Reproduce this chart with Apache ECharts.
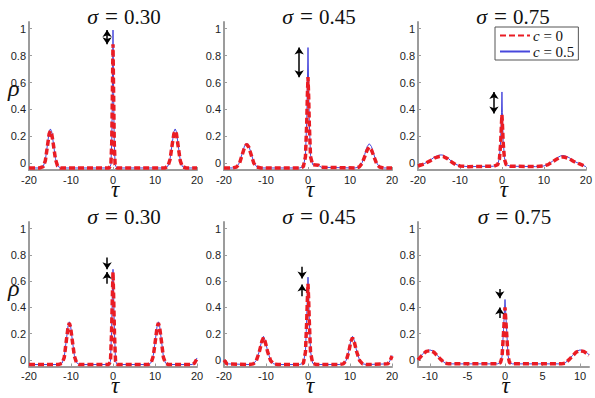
<!DOCTYPE html>
<html>
<head>
<meta charset="utf-8">
<script src="https://cdn.jsdelivr.net/npm/echarts@6/dist/echarts.min.js"></script>
<style>
  html, body { margin: 0; padding: 0; background: #fff; }
  #main { width: 595px; height: 398px; }
</style>
</head>
<body>
<div id="main"></div>
<script>
// panel titles (sigma values), top row then bottom row
var sigmaLabels = ['0.30', '0.45', '0.75', '0.30', '0.45', '0.75'];
var yTicks = [0, 0.2, 0.4, 0.6, 0.8, 1];
var xTicks = [-20, -10, 0, 10, 20];
var xTicksShort = [-10, -5, 0, 5, 10];

// top left, sigma = 0.30
var tauTL = [-20, -17.5, -16.6, -16.1, -15.6, -15.2, -14.9, -14.6, -14.2, -13.7, -13.2, -12.5, -0.9, -0.5, -0.3, -0.15, 0, 0.15, 0.3, 0.5, 0.9, 12.4, 13.1, 13.6, 14.1, 14.5, 14.8, 15.1, 15.5, 16.0, 16.5, 17.4, 20];
var rhoTL_c0 = [-0.035, -0.035, -0.025, 0.02, 0.13, 0.22, 0.24, 0.22, 0.14, 0.03, -0.02, -0.035, -0.035, -0.01, 0.15, 0.5, 0.885, 0.5, 0.15, -0.01, -0.035, -0.035, -0.02, 0.03, 0.14, 0.22, 0.24, 0.22, 0.13, 0.02, -0.025, -0.035, -0.035];
var rhoTL_c05 = [-0.035, -0.035, -0.024, 0.025, 0.14, 0.235, 0.255, 0.235, 0.15, 0.035, -0.02, -0.035, -0.035, -0.01, 0.16, 0.52, 0.99, 0.52, 0.16, -0.01, -0.035, -0.035, -0.02, 0.035, 0.15, 0.235, 0.255, 0.235, 0.14, 0.025, -0.024, -0.035, -0.035];

// top middle, sigma = 0.45
var tauTM = [-20, -18, -17, -16.3, -15.7, -15.1, -14.6, -14.1, -13.5, -12.9, -12.2, -11.2, -2, -1.1, -0.6, -0.3, -0.15, 0, 0.15, 0.3, 0.6, 1.1, 2.5, 3.2, 11.2, 12.2, 12.9, 13.5, 14.1, 14.6, 15.1, 15.7, 16.3, 17, 18, 20];
var rhoTM_c0 = [-0.035, -0.035, -0.028, 0.0, 0.06, 0.12, 0.14, 0.12, 0.06, 0.0, -0.028, -0.035, -0.035, -0.025, 0.05, 0.3, 0.5, 0.64, 0.5, 0.3, 0.05, -0.01, -0.015, -0.03, -0.035, -0.028, 0.0, 0.05, 0.1, 0.12, 0.1, 0.05, 0.0, -0.028, -0.035, -0.035];
var rhoTM_c05 = [-0.035, -0.035, -0.027, 0.005, 0.07, 0.13, 0.15, 0.13, 0.07, 0.005, -0.027, -0.035, -0.035, -0.025, 0.06, 0.32, 0.58, 0.86, 0.58, 0.32, 0.06, -0.01, -0.015, -0.03, -0.035, -0.027, 0.005, 0.065, 0.125, 0.145, 0.125, 0.065, 0.005, -0.027, -0.035, -0.035];

// top right, sigma = 0.75
var tauTR = [-20, -18.5, -17, -16, -15, -14.5, -14, -13, -12, -11, -10, -8, -2, -1, -0.6, -0.3, -0.1, 0, 0.1, 0.3, 0.6, 1, 2, 8, 10, 11, 12, 13, 14, 14.5, 15, 16, 17, 18.5, 20];
var rhoTR_c0 = [-0.02, -0.005, 0.02, 0.04, 0.05, 0.052, 0.05, 0.035, 0.01, -0.01, -0.02, -0.025, -0.022, -0.01, 0.03, 0.15, 0.3, 0.36, 0.3, 0.15, 0.03, -0.01, -0.022, -0.025, -0.02, -0.01, 0.01, 0.03, 0.045, 0.047, 0.045, 0.035, 0.015, -0.005, -0.025];
var rhoTR_c05 = [-0.02, -0.003, 0.025, 0.048, 0.06, 0.062, 0.06, 0.042, 0.014, -0.008, -0.02, -0.025, -0.022, -0.01, 0.04, 0.17, 0.38, 0.53, 0.38, 0.17, 0.04, -0.01, -0.022, -0.025, -0.02, -0.008, 0.014, 0.038, 0.055, 0.058, 0.055, 0.042, 0.018, -0.004, -0.025];

// bottom left, sigma = 0.30
var tauBL = [-20, -13, -12.1, -11.6, -11.1, -10.7, -10.4, -10.1, -9.7, -9.2, -8.7, -8, -1, -0.6, -0.35, -0.15, 0, 0.15, 0.35, 0.6, 1, 8.4, 9.1, 9.6, 10.1, 10.5, 10.8, 11.1, 11.5, 12.0, 12.5, 13.2, 18.8, 19.4, 20];
var rhoBL_c0 = [-0.035, -0.035, -0.025, 0.02, 0.15, 0.25, 0.28, 0.25, 0.15, 0.03, -0.02, -0.035, -0.035, -0.01, 0.2, 0.48, 0.67, 0.48, 0.2, -0.01, -0.035, -0.035, -0.02, 0.03, 0.15, 0.25, 0.28, 0.25, 0.15, 0.02, -0.025, -0.035, -0.035, -0.025, 0.01];
var rhoBL_c05 = [-0.035, -0.035, -0.024, 0.025, 0.155, 0.26, 0.29, 0.26, 0.155, 0.035, -0.02, -0.035, -0.035, -0.01, 0.21, 0.5, 0.69, 0.5, 0.21, -0.01, -0.035, -0.035, -0.02, 0.035, 0.155, 0.26, 0.29, 0.26, 0.155, 0.025, -0.024, -0.035, -0.035, -0.024, 0.015];

// bottom middle, sigma = 0.45
var tauBM = [-20, -19.3, -14, -13, -12.3, -11.6, -11, -10.6, -10.2, -9.6, -8.9, -8.2, -7.2, -2, -1.1, -0.6, -0.3, -0.15, 0, 0.15, 0.3, 0.6, 1.1, 2, 7.4, 8.4, 9.1, 9.7, 10.2, 10.6, 11, 11.6, 12.3, 13, 14, 19, 19.5, 20];
var rhoBM_c0 = [0.0, -0.03, -0.035, -0.03, -0.005, 0.06, 0.14, 0.17, 0.14, 0.06, -0.005, -0.03, -0.035, -0.035, -0.025, 0.06, 0.3, 0.46, 0.58, 0.46, 0.3, 0.06, -0.025, -0.035, -0.035, -0.03, -0.005, 0.06, 0.14, 0.17, 0.14, 0.06, -0.005, -0.03, -0.035, -0.03, -0.01, 0.03];
var rhoBM_c05 = [0.002, -0.03, -0.035, -0.03, -0.003, 0.065, 0.15, 0.18, 0.15, 0.065, -0.003, -0.03, -0.035, -0.035, -0.025, 0.065, 0.32, 0.5, 0.63, 0.5, 0.32, 0.065, -0.025, -0.035, -0.035, -0.03, -0.003, 0.065, 0.15, 0.18, 0.15, 0.065, -0.003, -0.03, -0.035, -0.03, -0.008, 0.035];

// bottom right, sigma = 0.75
var tauBR = [-11.6, -11, -10.5, -10, -9.5, -9, -8.5, -8, -7.5, -1, -0.6, -0.4, -0.2, 0, 0.2, 0.4, 0.6, 1, 7.5, 8, 8.5, 9, 9.5, 10, 10.5, 11, 11.2];
var rhoBR_c0 = [0.0, 0.04, 0.065, 0.07, 0.06, 0.03, 0.0, -0.025, -0.03, -0.03, -0.02, 0.02, 0.2, 0.4, 0.22, 0.03, -0.02, -0.03, -0.03, -0.025, 0.0, 0.03, 0.06, 0.07, 0.065, 0.045, 0.035];
var rhoBR_c05 = [0.002, 0.045, 0.07, 0.076, 0.066, 0.034, 0.002, -0.024, -0.03, -0.03, -0.02, 0.025, 0.23, 0.46, 0.25, 0.035, -0.02, -0.03, -0.03, -0.024, 0.002, 0.034, 0.066, 0.076, 0.07, 0.05, 0.04];

// arrows: [tau, rho from, rho to]
var arrowsTop = [[-1.4, 0.99, 0.885], [-2.1, 0.86, 0.64], [-1.9, 0.53, 0.37]];
var arrowsBottomDown = [[-1.4, 0.78, 0.69], [-1.4, 0.71, 0.62], [-0.7, 0.54, 0.47]];
var arrowsBottomUp = [[-1.4, 0.58, 0.67], [-1.4, 0.485, 0.575], [-0.7, 0.32, 0.40]];

var redColor = '#ea1c24';
var blueColor = '#4848dc';
var axisGray = '#9c9c9c';

var panels = [
  { tau: tauTL, c0: rhoTL_c0, c05: rhoTL_c05, left: 29, top: 22, width: 168, xmin: -20, xmax: 20, ticks: xTicks },
  { tau: tauTM, c0: rhoTM_c0, c05: rhoTM_c05, left: 224, top: 22, width: 168, xmin: -20, xmax: 20, ticks: xTicks },
  { tau: tauTR, c0: rhoTR_c0, c05: rhoTR_c05, left: 418, top: 22, width: 168, xmin: -20, xmax: 20, ticks: xTicks },
  { tau: tauBL, c0: rhoBL_c0, c05: rhoBL_c05, left: 29, top: 222, width: 168, xmin: -20, xmax: 20, ticks: xTicks },
  { tau: tauBM, c0: rhoBM_c0, c05: rhoBM_c05, left: 224, top: 222, width: 168, xmin: -20, xmax: 20, ticks: xTicks },
  { tau: tauBR, c0: rhoBR_c0, c05: rhoBR_c05, left: 418, top: 222, width: 171, xmin: -11.6, xmax: 11.2, ticks: xTicksShort }
];

function pairs(xs, ys) {
  return xs.map(function (x, k) { return [x, ys[k]]; });
}

function arrowLine(a, symbols) {
  return [
    { coord: [a[0], a[1]], symbol: symbols[0] },
    { coord: [a[0], a[2]], symbol: symbols[1] }
  ];
}

var dom = document.getElementById('main');
var myChart = echarts.init(dom, null, { renderer: 'svg' });

var grids = [], xAxes = [], yAxes = [], series = [], titles = [];

// rho labels on the left column
[71, 271].forEach(function (t) {
  titles.push({
    text: 'ρ', left: 3, top: t,
    textStyle: { fontFamily: 'Liberation Serif', fontStyle: 'italic', fontWeight: 'normal', fontSize: 24, color: '#111', lineHeight: 24 }
  });
});

panels.forEach(function (p, i) {
  grids.push({ left: p.left, top: p.top, width: p.width, height: 148 });

  xAxes.push({
    type: 'value', gridIndex: i, min: p.xmin, max: p.xmax,
    name: 'τ', nameLocation: 'middle', nameGap: 12, nameMoveOverlap: false,
    nameTextStyle: { fontFamily: 'Liberation Serif', fontStyle: 'italic', fontSize: 23, lineHeight: 14, color: '#111', verticalAlign: 'top', padding: [0, 0, 0, 4] },
    axisLine: { onZero: false, lineStyle: { color: axisGray, width: 2 } },
    axisTick: { show: true, inside: true, length: 3, customValues: p.ticks, lineStyle: { color: axisGray } },
    axisLabel: { customValues: p.ticks, color: '#222', fontSize: 11, fontFamily: 'Liberation Sans', margin: 4 },
    splitLine: { show: false }
  });

  yAxes.push({
    type: 'value', gridIndex: i, min: -0.05, max: 1.05,
    axisLine: { show: true, onZero: false, lineStyle: { color: axisGray, width: 2 } },
    axisTick: { show: true, inside: true, length: 3, customValues: yTicks, lineStyle: { color: axisGray } },
    axisLabel: { customValues: yTicks, color: '#222', fontSize: 11, fontFamily: 'Liberation Sans', margin: 3 },
    splitLine: { show: false }
  });

  titles.push({
    text: '{i|σ}{e|=}' + sigmaLabels[i],
    left: p.left + p.width / 2 + 6, top: i < 3 ? 0 : 200, textAlign: 'center',
    textStyle: {
      fontFamily: 'Liberation Serif', fontSize: 21, fontWeight: 'normal', color: '#111',
      rich: {
        i: { fontFamily: 'Liberation Serif', fontStyle: 'italic', fontSize: 22, color: '#111' },
        e: { fontFamily: 'Liberation Serif', fontSize: 23, color: '#111', padding: [0, 6, 0, 7] }
      }
    }
  });

  series.push({
    name: 'c = 0.5', type: 'line', xAxisIndex: i, yAxisIndex: i,
    data: pairs(p.tau, p.c05), symbol: 'none', smooth: false,
    lineStyle: { color: blueColor, width: 1 }, itemStyle: { color: blueColor },
    z: 2
  });

  var marks;
  if (i < 3) {
    marks = [arrowLine(arrowsTop[i], ['arrow', 'arrow'])];
  } else {
    marks = [arrowLine(arrowsBottomDown[i - 3], ['none', 'arrow']),
             arrowLine(arrowsBottomUp[i - 3], ['none', 'arrow'])];
  }

  series.push({
    name: 'c = 0', type: 'line', xAxisIndex: i, yAxisIndex: i,
    data: pairs(p.tau, p.c0), symbol: 'none', smooth: false,
    lineStyle: { color: redColor, width: 3.5, type: [6, 3] }, itemStyle: { color: redColor },
    z: 3,
    markLine: {
      silent: true, symbolSize: [7, 7], animation: false,
      label: { show: false },
      lineStyle: { color: '#000', width: 1.5, type: 'solid' },
      data: marks
    }
  });
});

var option = {
  backgroundColor: '#fff',
  animation: false,
  title: titles,
  grid: grids,
  xAxis: xAxes,
  yAxis: yAxes,
  legend: {
    data: ['c = 0', 'c = 0.5'],
    orient: 'vertical',
    left: 495, top: 27,
    itemWidth: 30, itemHeight: 10, itemGap: 1,
    padding: [1, 4, 1, 4],
    backgroundColor: '#fff',
    borderColor: '#555', borderWidth: 1, borderRadius: 0,
    selectedMode: false,
    itemStyle: { opacity: 0 },
    formatter: function (name) { return name.replace('c', '{i|c}'); },
    textStyle: {
      fontFamily: 'Liberation Serif', fontSize: 15, color: '#111', padding: [0, 0, 0, -2],
      rich: { i: { fontFamily: 'Liberation Serif', fontStyle: 'italic', fontSize: 15, color: '#111' } }
    }
  },
  series: series
};

if (option && typeof option === 'object') {
  myChart.setOption(option);
}

window.addEventListener('resize', myChart.resize);
</script>
</body>
</html>
